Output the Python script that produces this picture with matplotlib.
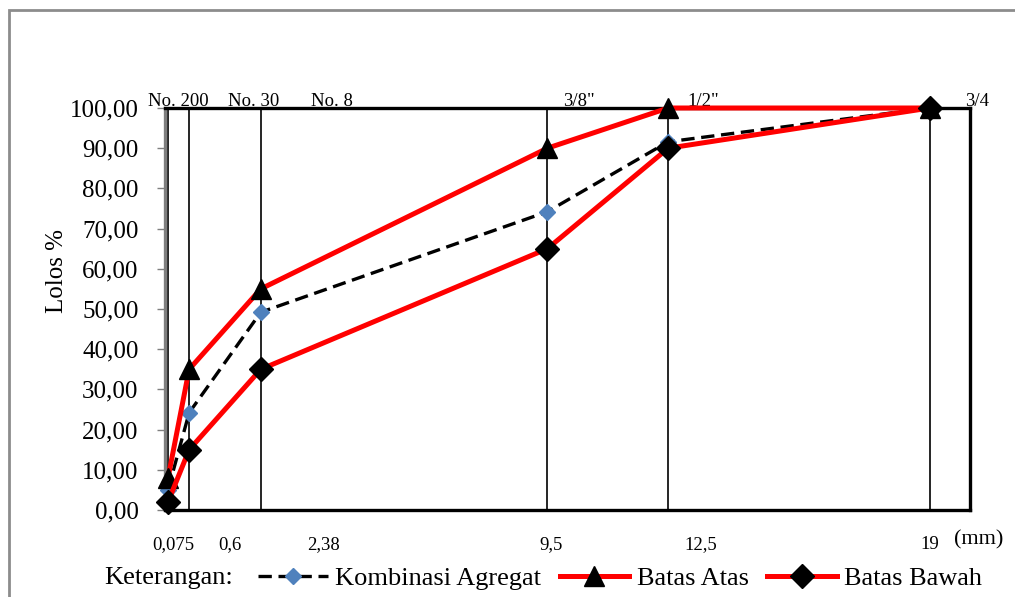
import matplotlib
matplotlib.use("Agg")
import matplotlib.pyplot as plt
from matplotlib.patches import Rectangle
from matplotlib.lines import Line2D
import matplotlib.transforms as mtransforms

plt.rcParams['font.family'] = ['Liberation Serif', 'DejaVu Serif']

# ---- data ----
sieve_mm = [0.075, 0.6, 2.38, 9.5, 12.5, 19]
kombinasi = [5.0, 24.2, 49.2, 74.2, 91.6, 100.0]
batas_atas = [8, 35, 55, 90, 100, 100]
batas_bawah = [2, 15, 35, 65, 90, 100]
yticks = [0, 10, 20, 30, 40, 50, 60, 70, 80, 90, 100]
ytick_labels = ["0,00", "10,00", "20,00", "30,00", "40,00", "50,00",
                "60,00", "70,00", "80,00", "90,00", "100,00"]
top_labels = ["No. 200", "No. 30", "No. 8", '3/8"', '1/2"', '3/4']
bottom_labels = ["0,075", "0,6", "2,38", "9,5", "12,5", "19"]
series_names = ["Kombinasi Agregat", "Batas Atas", "Batas Bawah"]

W, H = 1015, 597
fig = plt.figure(figsize=(W / 100, H / 100), dpi=100)
ax = fig.add_axes([165 / W, 1 - 510 / H, (970 - 165) / W, (510 - 108) / H])

# outer chart-area border (cut off at right and bottom)
fig.patches.append(Rectangle((9 / W, -0.05), 1.1, 1 - 10 / H + 0.05,
                             transform=fig.transFigure, fill=False,
                             edgecolor='#8c8c8c', linewidth=2.0, zorder=0))

ax.set_xlim(0, 20)
ax.set_ylim(0, 100)

# vertical sieve lines
for x in sieve_mm:
    ax.axvline(x, color='black', linewidth=1.2, zorder=1)

l1, = ax.plot(sieve_mm, kombinasi, color='black', linestyle=(0, (4, 2)),
              linewidth=2.4, marker='D', markersize=8, markerfacecolor='#4F81BD',
              markeredgecolor='#4F81BD', zorder=3, clip_on=False)
l2, = ax.plot(sieve_mm, batas_atas, color='#FF0000', linewidth=3.6,
              marker='^', markersize=15, markerfacecolor='black',
              markeredgecolor='black', zorder=4, clip_on=False)
l3, = ax.plot(sieve_mm, batas_bawah, color='#FF0000', linewidth=3.6,
              marker='D', markersize=12, markerfacecolor='black',
              markeredgecolor='black', zorder=5, clip_on=False)

# spines
for s in ['top', 'right', 'bottom']:
    ax.spines[s].set_color('black')
    ax.spines[s].set_linewidth(2.4)
ax.spines['left'].set_color('#7f7f7f')
ax.spines['left'].set_linewidth(2.4)

ax.set_xticks([])
ax.set_yticks(yticks)
ax.set_yticklabels(ytick_labels, fontsize=18)
ax.tick_params(axis='y', direction='out', length=6, width=1.0, color='#7f7f7f',
               pad=13)

ax.set_ylabel("Lolos %", fontsize=18)
ax.yaxis.label.set_verticalalignment('center')
ax.yaxis.set_label_coords(-0.134, 0.595)

# top sieve labels (left edges in data units)
top_x = [-0.42, 1.56, 3.62, 9.9, 12.98, 19.88]
trans_top = mtransforms.blended_transform_factory(ax.transData, ax.transAxes)
for lbl, x in zip(top_labels, top_x):
    ax.text(x, 1.005, lbl, transform=trans_top, ha='left', va='baseline',
            fontsize=13.5, clip_on=False)

# bottom size labels (centers in data units)
bot_x = [0.2, 1.6, 3.95, 9.58, 13.3, 19.0]
for lbl, x in zip(bottom_labels, bot_x):
    ax.text(x, -0.085, lbl, transform=trans_top, ha='center', va='center',
            fontsize=13.5, clip_on=False)
ax.text(19.6, -0.075, "(mm)", transform=trans_top, ha='left', va='center',
        fontsize=16, clip_on=False)

# legend
fig.text(104 / W, 1 - 578 / H, "Keterangan:", fontsize=19, ha='left',
         va='center', family=['Liberation Serif', 'DejaVu Serif'])
handles = [
    Line2D([], [], color='black', linestyle=(0, (4, 2)), linewidth=2.4,
           marker='D', markersize=8, markerfacecolor='#4F81BD',
           markeredgecolor='#4F81BD'),
    Line2D([], [], color='#FF0000', linewidth=3.6, marker='^', markersize=15,
           markerfacecolor='black', markeredgecolor='black'),
    Line2D([], [], color='#FF0000', linewidth=3.6, marker='D', markersize=12,
           markerfacecolor='black', markeredgecolor='black'),
]
fig.legend(handles, series_names, loc='center left',
           bbox_to_anchor=(258 / W, 1 - 578 / H), ncol=3, frameon=False,
           prop={'family': ['Liberation Serif', 'DejaVu Serif'], 'size': 19},
           handlelength=2.65, handletextpad=0.27,
           columnspacing=0.7, borderpad=0, borderaxespad=0)

fig.savefig("out.png", dpi=100)
